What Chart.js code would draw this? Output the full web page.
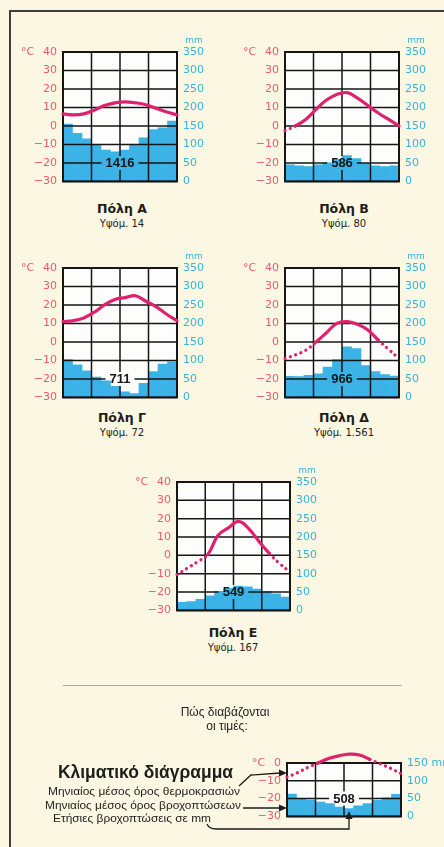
<!DOCTYPE html>
<html lang="el">
<head>
<meta charset="utf-8">
<title>Κλιματικά διαγράμματα</title>
<script src="https://cdn.jsdelivr.net/npm/chart.js@4.4.1/dist/chart.umd.min.js"></script>
<style>
  html, body { margin: 0; padding: 0; }
  body { width: 444px; height: 847px; overflow: hidden; position: relative; background: #fbf7e2; font-family: "DejaVu Sans", sans-serif; }
  .frame-top { position: absolute; left: 9px; top: 10px; width: 440px; height: 2px; background: #3d3d3b; }
  .frame-left { position: absolute; left: 9px; top: 10px; width: 2px; height: 840px; background: #3d3d3b; }
  .sep { position: absolute; left: 63px; top: 685px; width: 339px; height: 1px; background: #aeaca2; }
  canvas { position: absolute; }
  .title { position: absolute; width: 140px; margin-left: -70px; text-align: center; color: #1d1d1b; }
  .title b { display: block; font: bold 12.5px "DejaVu Sans", sans-serif; line-height: 15px; }
  .title span { display: block; font: 10px "DejaVu Sans", sans-serif; line-height: 15px; }
  svg { position: absolute; left: 0; top: 0; }
</style>
</head>
<body>
<div class="frame-top"></div>
<div class="frame-left"></div>

<canvas id="chartA"></canvas>
<canvas id="chartB"></canvas>
<canvas id="chartC"></canvas>
<canvas id="chartD"></canvas>
<canvas id="chartE"></canvas>
<canvas id="chartL"></canvas>

<div class="title" style="left:122px; top:201px"><b>Πόλη Α</b><span>Υψόμ. 14</span></div>
<div class="title" style="left:344px; top:201px"><b>Πόλη Β</b><span>Υψόμ. 80</span></div>
<div class="title" style="left:122px; top:410px"><b>Πόλη Γ</b><span>Υψόμ. 72</span></div>
<div class="title" style="left:344px; top:410px"><b>Πόλη Δ</b><span>Υψόμ. 1.561</span></div>
<div class="title" style="left:233px; top:625px"><b>Πόλη Ε</b><span>Υψόμ. 167</span></div>

<div class="sep"></div>

<svg width="444" height="847" font-family="Liberation Sans, Arial, sans-serif" fill="#1d1d1b">
  <text x="225" y="716" font-size="12" text-anchor="middle">Πώς διαβάζονται</text>
  <text x="227" y="729.5" font-size="12" text-anchor="middle">οι τιμές:</text>
  <text x="58" y="778" font-size="18" font-weight="bold" textLength="175" lengthAdjust="spacingAndGlyphs">Κλιματικό διάγραμμα</text>
  <text x="48" y="794.5" font-size="10.5" textLength="192" lengthAdjust="spacingAndGlyphs">Μηνιαίος μέσος όρος θερμοκρασιών</text>
  <text x="45" y="809" font-size="10.5" textLength="196" lengthAdjust="spacingAndGlyphs">Μηνιαίος μέσος όρος βροχοπτώσεων</text>
  <text x="53" y="821.5" font-size="10.5" textLength="158" lengthAdjust="spacingAndGlyphs">Ετήσιες βροχοπτώσεις σε mm</text>
  <g stroke="#1d1d1b" stroke-width="1.3" fill="none">
    <polyline points="239,786 251,775 280,773"/>
    <line x1="243" y1="808" x2="280" y2="808"/>
    <path d="M207 824 Q209 829 216 829 L349 829 L349 818"/>
  </g>
  <polygon points="287,773 279,769.5 279,776.5"/>
  <polygon points="287,808 279,804.5 279,811.5"/>
  <polygon points="349,811 345.5,819 352.5,819"/>
</svg>

<script>
const months = ['Ιαν', 'Φεβ', 'Μάρ', 'Απρ', 'Μάι', 'Ιούν', 'Ιούλ', 'Αύγ', 'Σεπ', 'Οκτ', 'Νοέ', 'Δεκ'];

// axis ranges: [min, max, step]
const tempRange = [-30, 40, 10];
const rainRange = [0, 350, 50];
const keyTempRange = [-30, 0, 10];
const keyRainRange = [0, 150, 50];

// Πόλη Α
const tempA = [6.5, 6, 6.5, 8.5, 11, 12.5, 13, 12.5, 11.5, 9.5, 7.5, 6];
const rainA = [155, 130, 115, 100, 85, 80, 85, 100, 118, 140, 145, 163];
const totalA = 1416;

// Πόλη Β
const tempB = [-2.5, 0, 3.5, 9, 14, 17, 18, 15, 11, 7, 3.5, 0];
const rainB = [45, 42, 40, 45, 50, 60, 70, 62, 48, 42, 40, 42];
const totalB = 586;

// Πόλη Γ
const tempC = [11, 11.5, 13, 16, 20, 23, 24, 25, 22, 19, 15, 11.5];
const rainC = [102, 88, 72, 55, 45, 30, 15, 10, 38, 70, 90, 96];
const totalC = 711;

// Πόλη Δ
const tempD = [-9, -7, -4.5, 0, 5, 10, 11, 9.5, 6.5, 1, -4, -9];
const rainD = [57, 56, 60, 64, 82, 102, 137, 132, 86, 70, 62, 58];
const totalD = 966;

// Πόλη Ε
const tempE = [-10.5, -7, -3.5, 0.5, 11, 15, 18.5, 14.5, 7.5, 1, -4.5, -9];
const rainE = [22, 24, 30, 40, 52, 60, 66, 64, 58, 52, 45, 36];
const totalE = 549;

// example diagram ("Πώς διαβάζονται οι τιμές")
const tempKey = [-8, -5.5, -2.5, 0, 2.5, 4, 5, 4.5, 2, -0.5, -3, -6];
const rainKey = [63, 50, 46, 40, 36, 26, 22, 30, 36, 45, 52, 62];
const totalKey = 508;

const PINK = '#ee5775';
const CYAN = '#36b4d8';
const BLUE = '#3bb3e6';
const MAGENTA = '#e0226e';
const INK = '#161616';
const TICK_FONT = '11px "DejaVu Sans"';
const TOTAL_FONT = 'bold 13px "Liberation Sans"';

const climatePlugin = {
    id: 'climate',
    beforeDatasetsDraw(chart) {
        const { ctx, chartArea: a } = chart;
        ctx.save();
        ctx.fillStyle = '#fdfdfb';
        ctx.fillRect(a.left, a.top, a.width, a.height);
        ctx.restore();
    },
    // grid goes over the rain bars but under the temperature line
    afterDatasetDraw(chart, args, o) {
        if (args.meta.type !== 'bar') return;
        const { ctx, chartArea: a } = chart;
        const yt = chart.scales.yt;
        const xb = chart.scales.xb;
        ctx.save();
        ctx.font = TOTAL_FONT;
        const gapX = ctx.measureText(String(o.total)).width / 2 + 4;
        const cx = (a.left + a.right) / 2;
        const ly = yt.getPixelForValue(o.labelAt);
        ctx.strokeStyle = INK;
        ctx.lineWidth = 1.5;
        ctx.beginPath();
        yt.ticks.forEach(t => {
            const y = yt.getPixelForValue(t.value);
            if (t.value === o.labelAt) {
                ctx.moveTo(a.left, y); ctx.lineTo(cx - gapX, y);
                ctx.moveTo(cx + gapX, y); ctx.lineTo(a.right, y);
            } else {
                ctx.moveTo(a.left, y); ctx.lineTo(a.right, y);
            }
        });
        for (let m = 3; m < months.length; m += 3) {
            const x = (xb.getPixelForValue(m - 1) + xb.getPixelForValue(m)) / 2;
            if (Math.abs(x - cx) < 2) {
                ctx.moveTo(x, a.top); ctx.lineTo(x, ly - 7);
                ctx.moveTo(x, ly + 7); ctx.lineTo(x, a.bottom);
            } else {
                ctx.moveTo(x, a.top); ctx.lineTo(x, a.bottom);
            }
        }
        ctx.stroke();
        ctx.lineWidth = 2;
        ctx.strokeRect(a.left, a.top, a.width, a.height);
        ctx.restore();
    },
    afterDraw(chart, args, o) {
        const { ctx, chartArea: a } = chart;
        const yt = chart.scales.yt;
        ctx.save();
        ctx.textBaseline = 'middle';
        ctx.font = TOTAL_FONT;
        ctx.fillStyle = INK;
        ctx.textAlign = 'center';
        ctx.fillText(String(o.total), (a.left + a.right) / 2, yt.getPixelForValue(o.labelAt) + 0.5);
        ctx.font = TICK_FONT;
        ctx.fillStyle = PINK;
        ctx.textAlign = 'left';
        ctx.fillText('°C', a.left - o.degOffset, yt.getPixelForValue(yt.max));
        if (o.mmAbove) {
            ctx.font = '9px "DejaVu Sans"';
            ctx.fillStyle = CYAN;
            ctx.textAlign = 'center';
            ctx.fillText('mm', a.right + 17, a.top - 11);
        }
        ctx.restore();
    }
};

function minusLabel(v) {
    return v < 0 ? '\u2212' + Math.abs(v) : String(v);
}

function climateChart(id, plot, temps, rain, total, tRange, rRange, opt) {
    const pad = opt.pad;
    const canvas = document.getElementById(id);
    const w = plot.w + pad.left + pad.right;
    const h = plot.h + pad.top + pad.bottom;
    canvas.width = w;
    canvas.height = h;
    canvas.style.left = (plot.x - pad.left) + 'px';
    canvas.style.top = (plot.y - pad.top) + 'px';
    canvas.style.width = w + 'px';
    canvas.style.height = h + 'px';

    return new Chart(canvas.getContext('2d'), {
        type: 'bar',
        data: {
            labels: months,
            datasets: [{
                type: 'bar',
                label: 'Βροχοπτώσεις',
                data: rain,
                xAxisID: 'xb',
                yAxisID: 'yr',
                backgroundColor: BLUE,
                borderWidth: 0,
                barPercentage: 1,
                categoryPercentage: 1,
                grouped: false,
                order: 2
            }, {
                type: 'line',
                label: 'Θερμοκρασία',
                data: temps,
                xAxisID: 'xl',
                yAxisID: 'yt',
                borderColor: MAGENTA,
                borderWidth: 3.2,
                borderCapStyle: 'round',
                borderJoinStyle: 'round',
                pointRadius: 0,
                tension: 0.4,
                clip: false,
                order: 1,
                segment: {
                    borderDash: ctx => (ctx.p0.parsed.y < 0 || ctx.p1.parsed.y < 0) ? [0.1, 5.5] : undefined
                }
            }]
        },
        options: {
            responsive: false,
            animation: false,
            datasets: {
                bar: { barPercentage: 1, categoryPercentage: 1 }
            },
            layout: { padding: { top: pad.top, bottom: pad.bottom, left: 0, right: 0 } },
            plugins: {
                legend: { display: false },
                tooltip: { enabled: false },
                climate: { total: total, labelAt: -20, degOffset: opt.degOffset, mmAbove: opt.mmAbove }
            },
            scales: {
                xb: { type: 'category', labels: months, offset: true, display: false },
                xl: { type: 'category', labels: months, offset: false, display: false },
                yt: {
                    position: 'left',
                    min: tRange[0],
                    max: tRange[1],
                    grid: { display: false, drawTicks: false },
                    border: { display: false },
                    ticks: {
                        stepSize: tRange[2],
                        color: PINK,
                        padding: 6,
                        font: { family: 'DejaVu Sans', size: 11 },
                        callback: v => minusLabel(v)
                    },
                    afterFit: s => { s.width = pad.left; }
                },
                yr: {
                    position: 'right',
                    min: rRange[0],
                    max: rRange[1],
                    grid: { display: false, drawTicks: false },
                    border: { display: false },
                    ticks: {
                        stepSize: rRange[2],
                        color: CYAN,
                        padding: 6,
                        font: { family: 'DejaVu Sans', size: 11 },
                        callback: v => (opt.unitOnTick && v === rRange[1]) ? v + ' mm' : String(v)
                    },
                    afterFit: s => { s.width = pad.right; }
                }
            }
        },
        plugins: [climatePlugin]
    });
}

const mainOpt = { pad: { left: 50, right: 40, top: 16, bottom: 8 }, degOffset: 42, mmAbove: true, unitOnTick: false };
const keyOpt = { pad: { left: 50, right: 46, top: 20, bottom: 8 }, degOffset: 35, mmAbove: false, unitOnTick: true };

climateChart('chartA', { x: 63, y: 52, w: 114, h: 134 }, tempA, rainA, totalA, tempRange, rainRange, mainOpt);
climateChart('chartB', { x: 285, y: 52, w: 114, h: 134 }, tempB, rainB, totalB, tempRange, rainRange, mainOpt);
climateChart('chartC', { x: 63, y: 268, w: 114, h: 134 }, tempC, rainC, totalC, tempRange, rainRange, mainOpt);
climateChart('chartD', { x: 285, y: 268, w: 114, h: 134 }, tempD, rainD, totalD, tempRange, rainRange, mainOpt);
climateChart('chartE', { x: 177, y: 482, w: 113, h: 133 }, tempE, rainE, totalE, tempRange, rainRange, mainOpt);
climateChart('chartL', { x: 287, y: 763, w: 114, h: 58 }, tempKey, rainKey, totalKey, keyTempRange, keyRainRange, keyOpt);
</script>
</body>
</html>
